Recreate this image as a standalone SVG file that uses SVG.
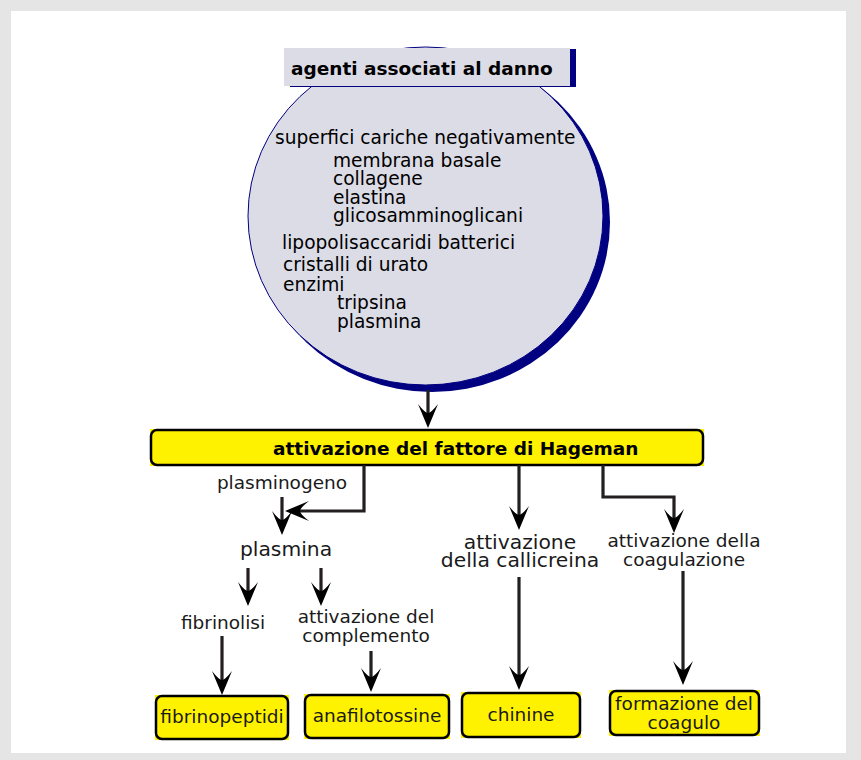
<svg xmlns="http://www.w3.org/2000/svg" width="861" height="760" viewBox="0 0 861 760">
<defs>
<style>
text{font-family:"DejaVu Sans","Liberation Sans",sans-serif;fill:#1a1a1a}
.c{font-size:18.6px;fill:#000}
.b{font-weight:bold;font-size:18.5px;fill:#000}
.l{font-size:18.5px;text-anchor:middle}
.ll{font-size:20.3px;text-anchor:middle}
.yb{fill:#fff200;stroke:#000;stroke-width:2.5}
.yf{fill:#fff200}
.cn{fill:none;stroke:#231f20;stroke-width:3.2;marker-end:url(#ah)}
</style>
<marker id="ah" viewBox="-25 -11 27 22" refX="-15" refY="0" markerWidth="27" markerHeight="22" markerUnits="userSpaceOnUse" orient="auto" overflow="visible">
<path d="M0,0 L-24,-10 Q-15,-3 -15,0 Q-15,3 -24,10 Z" fill="#000"/>
</marker>
</defs>
<rect x="0" y="0" width="861" height="760" fill="#e5e5e5"/>
<rect x="11" y="11" width="835" height="742" fill="#fff"/>

<g id="agenti">
<ellipse cx="432" cy="222" rx="178" ry="170" fill="#000080"/>
<ellipse cx="425.5" cy="216" rx="177.5" ry="169" fill="#dcdce6" stroke="#000080" stroke-width="1"/>
<rect x="290" y="49" width="286" height="38" fill="#000080"/>
<rect x="284" y="48" width="286" height="38" fill="#dcdce6"/>
<text class="b" x="291" y="75">agenti associati al danno</text>
<text class="c" x="275" y="144">superfici cariche negativamente</text>
<text class="c" x="333" y="167">membrana basale</text>
<text class="c" x="333" y="185">collagene</text>
<text class="c" x="333" y="204">elastina</text>
<text class="c" x="333" y="222">glicosamminoglicani</text>
<text class="c" x="282" y="249">lipopolisaccaridi batterici</text>
<text class="c" x="283" y="271">cristalli di urato</text>
<text class="c" x="283" y="291">enzimi</text>
<text class="c" x="337" y="309">tripsina</text>
<text class="c" x="337" y="328">plasmina</text>
</g>

<g id="hageman">
<rect class="yf" x="150" y="429" width="554" height="37"/>
<rect class="yb" x="151" y="430" width="552" height="35" rx="6"/>
<text class="b" x="273" y="455">attivazione del fattore di Hageman</text>
</g>

<g id="plasminogeno"><text class="l" x="282" y="489">plasminogeno</text></g>
<g id="plasmina"><text class="ll" x="286" y="556">plasmina</text></g>
<g id="fibrinolisi"><text class="l" x="223" y="629">fibrinolisi</text></g>
<g id="complemento"><text class="l" x="366" y="623">attivazione del</text><text class="l" x="366" y="642">complemento</text></g>
<g id="callicreina"><text class="ll" x="520" y="549">attivazione</text><text class="ll" x="520" y="567">della callicreina</text></g>
<g id="coagulazione"><text class="l" x="684" y="547">attivazione della</text><text class="l" x="684" y="566">coagulazione</text></g>

<g id="fibrinopeptidi">
<rect class="yf" x="155" y="695" width="134" height="45"/>
<rect class="yb" x="156" y="696" width="132" height="43" rx="6"/>
<text class="l" x="222" y="723">fibrinopeptidi</text>
</g>
<g id="anafilotossine">
<rect class="yf" x="304" y="694" width="146" height="45"/>
<rect class="yb" x="305" y="695" width="144" height="43" rx="6"/>
<text class="l" x="377" y="722">anafilotossine</text>
</g>
<g id="chinine">
<rect class="yf" x="461" y="692" width="120" height="46"/>
<rect class="yb" x="462" y="693" width="118" height="44" rx="6"/>
<text class="l" x="521" y="721">chinine</text>
</g>
<g id="coagulo">
<rect class="yf" x="609" y="690" width="151" height="46"/>
<rect class="yb" x="610" y="691" width="149" height="44" rx="6"/>
<text class="l" x="684" y="710">formazione del</text>
<text class="l" x="684" y="729">coagulo</text>
</g>

<g id="connectors">
<path class="cn" d="M428,390 V413"/>
<path class="cn" d="M364,465 V511 H300"/>
<path class="cn" d="M282,497 V520"/>
<path class="cn" d="M248,568 V591"/>
<path class="cn" d="M321,568 V591"/>
<path class="cn" d="M222,636 V680"/>
<path class="cn" d="M371,651 V677"/>
<path class="cn" d="M519,465 V515"/>
<path class="cn" d="M519,577 V675"/>
<path class="cn" d="M603,465 V497 H674 V518"/>
<path class="cn" d="M683,571 V670"/>
</g>
</svg>
